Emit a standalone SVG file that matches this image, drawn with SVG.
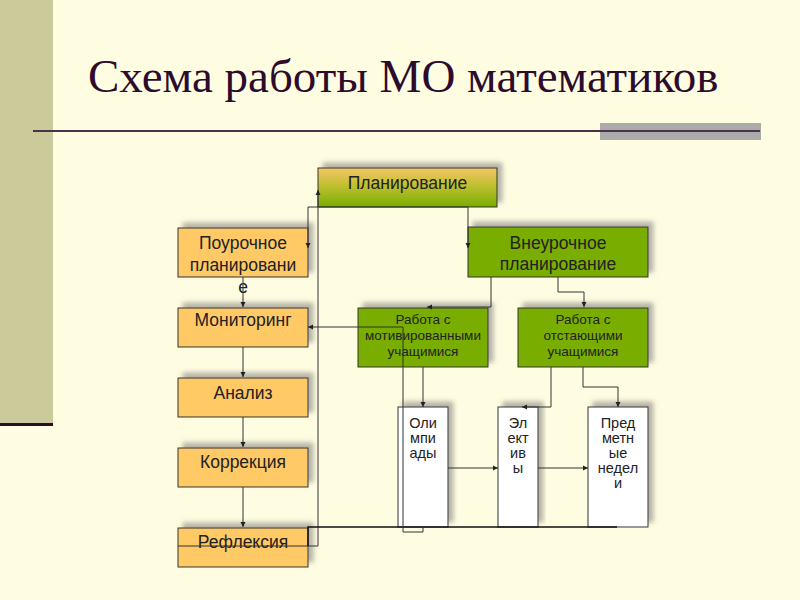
<svg xmlns="http://www.w3.org/2000/svg" width="800" height="600" viewBox="0 0 800 600">
<defs>
<filter id="sh" x="-20%" y="-30%" width="140%" height="160%">
<feGaussianBlur in="SourceAlpha" stdDeviation="2.5" result="b"/>
<feOffset in="b" dx="5" dy="-5" result="o"/>
<feFlood flood-color="#777" flood-opacity="0.55"/>
<feComposite in2="o" operator="in" result="s"/>
<feMerge><feMergeNode in="s"/><feMergeNode in="SourceGraphic"/></feMerge>
</filter>
<linearGradient id="gPlan" x1="0" y1="0" x2="0" y2="1">
<stop offset="0" stop-color="#F6C565"/>
<stop offset="0.45" stop-color="#BFC030"/>
<stop offset="1" stop-color="#79AD00"/>
</linearGradient>
<marker id="ah" markerUnits="userSpaceOnUse" markerWidth="6" markerHeight="6" refX="5" refY="3" orient="auto">
<path d="M0,0.5 L5,3 L0,5.5 Z" fill="#222"/>
</marker>
<style>
.or{fill:#FFC966;stroke:#333;stroke-width:1}
.gr{fill:#79AD00;stroke:#333;stroke-width:1}
.wh{fill:#FFFFFF;stroke:#333;stroke-width:1}
.t{font-family:"Liberation Sans",Arial,sans-serif;font-size:17.5px;fill:#222;text-anchor:middle}
.ts{font-family:"Liberation Sans",Arial,sans-serif;font-size:13.5px;fill:#222;text-anchor:middle}
.tw{font-family:"Liberation Sans",Arial,sans-serif;font-size:14.5px;fill:#222;text-anchor:middle}
.c{fill:none;stroke:#333;stroke-width:1}
</style>
</defs>
<rect x="0" y="0" width="800" height="600" fill="#FFFDE1"/>
<rect x="0" y="0" width="53" height="425" fill="#CBCA9B"/>
<rect x="0" y="423" width="53" height="3" fill="#2E0A24"/>
<text x="88" y="92" font-family="'Liberation Serif','Times New Roman',serif" font-size="47" fill="#2D0B2D">Схема работы МО математиков</text>
<rect x="600" y="123" width="161" height="17" fill="#ABABAB"/>
<line x1="33" y1="131" x2="760" y2="131" stroke="#4A3248" stroke-width="2"/>

<g id="plan"><rect x="318" y="168" width="179" height="39" fill="url(#gPlan)" stroke="#333" filter="url(#sh)"/><text class="t" x="407.5" y="189">Планирование</text></g>
<g id="vneur"><rect class="gr" x="468" y="227" width="180" height="50" filter="url(#sh)"/><text class="t" x="558" y="249">Внеурочное</text><text class="t" x="558" y="270">планирование</text></g>
<g id="pour"><rect class="or" x="178" y="228" width="130" height="49" filter="url(#sh)"/><text class="t" x="243" y="249">Поурочное</text><text class="t" x="243" y="271">планировани</text><text class="t" x="243" y="293">е</text></g>
<g id="monit"><rect class="or" x="178" y="308" width="130" height="39" filter="url(#sh)"/><text class="t" x="243" y="326">Мониторинг</text></g>
<g id="analiz"><rect class="or" x="178" y="378" width="130" height="39" filter="url(#sh)"/><text class="t" x="243" y="399">Анализ</text></g>
<g id="korr"><rect class="or" x="178" y="448" width="130" height="39" filter="url(#sh)"/><text class="t" x="243" y="468">Коррекция</text></g>
<g id="refl"><rect class="or" x="178" y="528" width="130" height="39" filter="url(#sh)"/><text class="t" x="243" y="548">Рефлексия</text></g>
<g id="motiv"><rect class="gr" x="358" y="308" width="130" height="59" filter="url(#sh)"/><text class="ts" x="423" y="324">Работа с</text><text class="ts" x="423" y="340">мотивированными</text><text class="ts" x="423" y="356">учащимися</text></g>
<g id="otst"><rect class="gr" x="518" y="308" width="130" height="59" filter="url(#sh)"/><text class="ts" x="583" y="324">Работа с</text><text class="ts" x="583" y="340">отстающими</text><text class="ts" x="583" y="356">учащимися</text></g>
<g id="olimp"><rect class="wh" x="398" y="407" width="50" height="120" filter="url(#sh)"/><text class="tw" x="423" y="428">Оли</text><text class="tw" x="423" y="443">мпи</text><text class="tw" x="423" y="458">ады</text></g>
<g id="elekt"><rect class="wh" x="498" y="407" width="40" height="120" filter="url(#sh)"/><text class="tw" x="518" y="428">Эл</text><text class="tw" x="518" y="443">ект</text><text class="tw" x="518" y="458">ив</text><text class="tw" x="518" y="473">ы</text></g>
<g id="predm"><rect class="wh" x="588" y="407" width="60" height="120" filter="url(#sh)"/><text class="tw" x="618" y="428">Пред</text><text class="tw" x="618" y="443">метн</text><text class="tw" x="618" y="458">ые</text><text class="tw" x="618" y="473">недел</text><text class="tw" x="618" y="488">и</text></g>

<g id="connectors">
<path class="c" d="M388 207 H308 V248" marker-end="url(#ah)"/>
<path class="c" d="M388 207 H468 V248" marker-end="url(#ah)"/>
<path class="c" d="M178 546 H318 V190" marker-end="url(#ah)"/>
<path d="M617 527 H308 V546" fill="none" stroke="#111" stroke-width="1.5"/>
<path class="c" d="M423 527 V532 H403 V327 H308" marker-end="url(#ah)"/>
<path class="c" d="M243 277 V307" marker-end="url(#ah)"/>
<path class="c" d="M243 347 V377" marker-end="url(#ah)"/>
<path class="c" d="M243 417 V447" marker-end="url(#ah)"/>
<path class="c" d="M243 487 V527" marker-end="url(#ah)"/>
<path class="c" d="M491 277 V307 H427" marker-end="url(#ah)"/>
<path class="c" d="M558 277 V292 H584 V307" marker-end="url(#ah)"/>
<path class="c" d="M423 367 V407" marker-end="url(#ah)"/>
<path class="c" d="M551 367 V407 H522" marker-end="url(#ah)"/>
<path class="c" d="M583 367 V387 H618 V407" marker-end="url(#ah)"/>
<path class="c" d="M448 468 H498" marker-end="url(#ah)"/>
<path class="c" d="M538 468 H588" marker-end="url(#ah)"/>
</g>
</svg>
